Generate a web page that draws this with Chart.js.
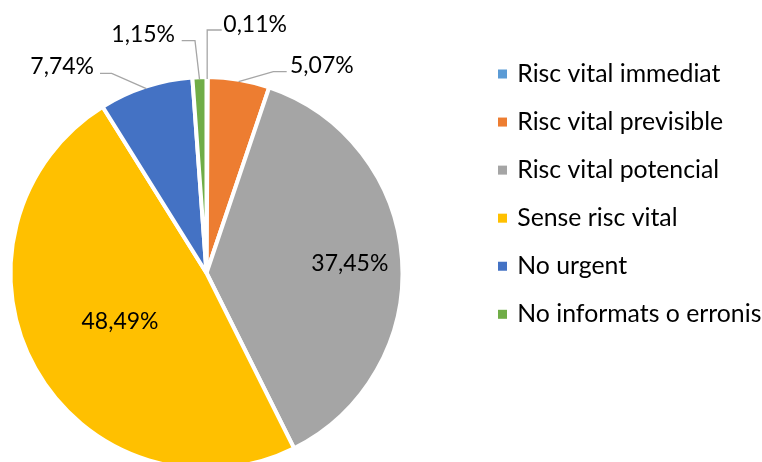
<!DOCTYPE html>
<html><head><meta charset="utf-8">
<script src="https://cdn.jsdelivr.net/npm/chart.js@4"></script>
<style>
html,body{margin:0;padding:0;background:#fff;overflow:hidden;}
#wrap{position:relative;width:762px;height:480px;}
</style></head><body>
<div id="wrap"><canvas id="c" width="762" height="480"></canvas></div>
<script>
// ---- data ----
const categories = ['Risc vital immediat','Risc vital previsible','Risc vital potencial','Sense risc vital','No urgent','No informats o erronis'];
const percentValues = [0.11, 5.07, 37.45, 48.49, 7.74, 1.15];
const sliceColors = ['#5B9BD5','#ED7D31','#A5A5A5','#FFC000','#4472C4','#70AD47'];

// ---- label layout (positions relative to pie centre, px) ----
const labelLayout = [
  {type:'out', elbow:[0.7,-243], end:[15.2,-243], text:[16.8,-248.3], align:'left'},
  {type:'out', elbow:[66.8,-201.3], end:[80.2,-201.3], text:[83.5,-207.7], align:'left'},
  {type:'in', r:0.733},
  {type:'in', r:0.506},
  {type:'out', elbow:[-94.8,-199.7], end:[-106.5,-199.7], text:[-112.5,-206.7], align:'right'},
  {type:'out', elbow:[-11.5,-232.3], end:[-24.8,-232.3], text:[-31.5,-238], align:'right'}
];
const LABEL_FONT = '23px Lato, "Liberation Sans", sans-serif';
const LEGEND_FONT = '24.8px Lato, "Liberation Sans", sans-serif';
const fmt = v => v.toFixed(2).replace('.', ',') + '%';

const labelPlugin = {
  id: 'pieLabels',
  afterDatasetsDraw(chart) {
    const ctx = chart.ctx;
    const meta = chart.getDatasetMeta(0);
    ctx.save();
    ctx.font = LABEL_FONT;
    ctx.textBaseline = 'middle';
    meta.data.forEach((arc, i) => {
      const L = labelLayout[i];
      const cx = arc.x, cy = arc.y;
      const mid = (arc.startAngle + arc.endAngle) / 2;
      const txt = fmt(percentValues[i]);
      ctx.fillStyle = '#000';
      if (L.type === 'in') {
        const r = arc.outerRadius * L.r;
        ctx.textAlign = 'center';
        ctx.fillText(txt, cx + Math.cos(mid) * r, cy + Math.sin(mid) * r);
      } else {
        const r = arc.outerRadius - 2;
        const sx = cx + Math.cos(mid) * r, sy = cy + Math.sin(mid) * r;
        ctx.strokeStyle = '#A6A6A6';
        ctx.lineWidth = 1.3;
        ctx.beginPath();
        ctx.moveTo(sx, sy);
        ctx.lineTo(cx + L.elbow[0], cy + L.elbow[1]);
        ctx.lineTo(cx + L.end[0], cy + L.end[1]);
        ctx.stroke();
        ctx.textAlign = L.align;
        ctx.fillText(txt, cx + L.text[0], cy + L.text[1]);
      }
    });
    ctx.restore();
  }
};

const legendPlugin = {
  id: 'sideLegend',
  afterDraw(chart) {
    const ctx = chart.ctx;
    ctx.save();
    ctx.font = LEGEND_FONT;
    ctx.textBaseline = 'middle';
    ctx.textAlign = 'left';
    categories.forEach((name, i) => {
      const y = 74 + i * 48.06;
      ctx.fillStyle = sliceColors[i];
      ctx.fillRect(498, y - 4.5, 9, 9);
      ctx.fillStyle = '#000';
      ctx.fillText(name, 517.3, y);
    });
    ctx.restore();
  }
};

new Chart(document.getElementById('c'), {
  type: 'pie',
  data: {
    labels: categories,
    datasets: [{
      data: percentValues,
      backgroundColor: sliceColors,
      borderColor: '#ffffff',
      borderWidth: 4
    }]
  },
  options: {
    responsive: false,
    animation: false,
    layout: { padding: { left: 8.5, right: 357.5, top: 75, bottom: 9 } },
    plugins: { legend: { display: false }, tooltip: { enabled: false } }
  },
  plugins: [labelPlugin, legendPlugin]
});
</script>
</body></html>
